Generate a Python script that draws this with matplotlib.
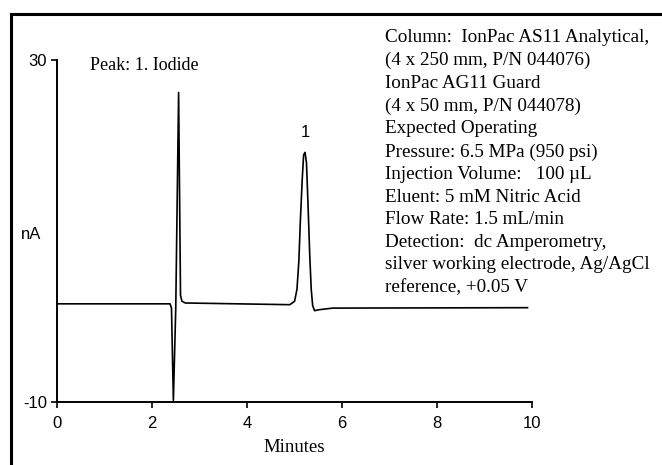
import matplotlib.pyplot as plt
from matplotlib.lines import Line2D

# trace (minutes, nA)
minutes = [0.0, 2.38, 2.41, 2.45, 2.50, 2.56, 2.60, 2.63, 2.70,
           4.90, 5.00, 5.05, 5.09, 5.12, 5.16, 5.19, 5.22, 5.25, 5.28,
           5.32, 5.35, 5.38, 5.42, 5.50, 5.80, 9.90]
signal = [1.5, 1.5, 1.0, -9.8, 1.0, 26.2, 2.5, 1.8, 1.6,
          1.4, 1.8, 3.2, 6.5, 11.0, 16.0, 18.9, 19.2, 18.0, 13.5,
          7.0, 3.2, 1.3, 0.7, 0.8, 1.0, 1.05]

peak_time = 5.22
peak_height = 19.2
peak_label = "1"

xticks = [0, 2, 4, 6, 8, 10]
yticks = [-10, 30]

conditions = [
    "Column:  IonPac AS11 Analytical,",
    "(4 x 250 mm, P/N 044076)",
    "IonPac AG11 Guard",
    "(4 x 50 mm, P/N 044078)",
    "Expected Operating",
    "Pressure: 6.5 MPa (950 psi)",
    "Injection Volume:   100 \u00b5L",
    "Eluent: 5 mM Nitric Acid",
    "Flow Rate: 1.5 mL/min",
    "Detection:  dc Amperometry,",
    "silver working electrode, Ag/AgCl",
    "reference, +0.05 V",
]

serif = ["Liberation Serif", "DejaVu Serif"]
narrow = ["Liberation Sans Narrow", "Liberation Sans", "DejaVu Sans"]

fig = plt.figure(figsize=(6.62, 4.65), dpi=100)
ax = fig.add_axes([0.086, 0.135, 0.718, 0.736])

ax.plot(minutes, signal, color="black", lw=1.2)
ax.text(peak_time, peak_height + 1.5, peak_label, ha="center", va="bottom",
        fontsize=12, family=narrow)

ax.set_xlim(0, 10)
ax.set_ylim(-10, 30)
ax.set_xticks(xticks)
ax.set_yticks(yticks)
ax.set_xticklabels([str(t) for t in xticks], family=narrow, fontsize=12)
ax.set_yticklabels([str(t) for t in yticks], family=narrow, fontsize=12)
ax.tick_params(direction="out", length=4, width=1.2, pad=3)
ax.tick_params(axis="x", pad=6)
for s in ["top", "right"]:
    ax.spines[s].set_visible(False)
for s in ["left", "bottom"]:
    ax.spines[s].set_linewidth(1.4)

ax.set_xlabel("Minutes", family=serif, fontsize=13.5, labelpad=6)
ax.text(-0.055, 0.49, "nA", transform=ax.transAxes, ha="center", va="center",
        family=narrow, fontsize=12)

ax.text(0.07, 0.985, "Peak: 1. Iodide", transform=ax.transAxes,
        ha="left", va="center", family=serif, fontsize=13)

fig.text(0.582, 0.937, "\n".join(conditions), ha="left", va="top",
         family=serif, fontsize=13.8, linespacing=1.43)

# scanned page frame
fig.add_artist(Line2D([0.016, 0.016], [0.0, 0.970], transform=fig.transFigure,
                      color="black", lw=2.2))
fig.add_artist(Line2D([0.016, 1.0], [0.970, 0.970], transform=fig.transFigure,
                      color="black", lw=2.2))

fig.savefig("out.png", dpi=100)
